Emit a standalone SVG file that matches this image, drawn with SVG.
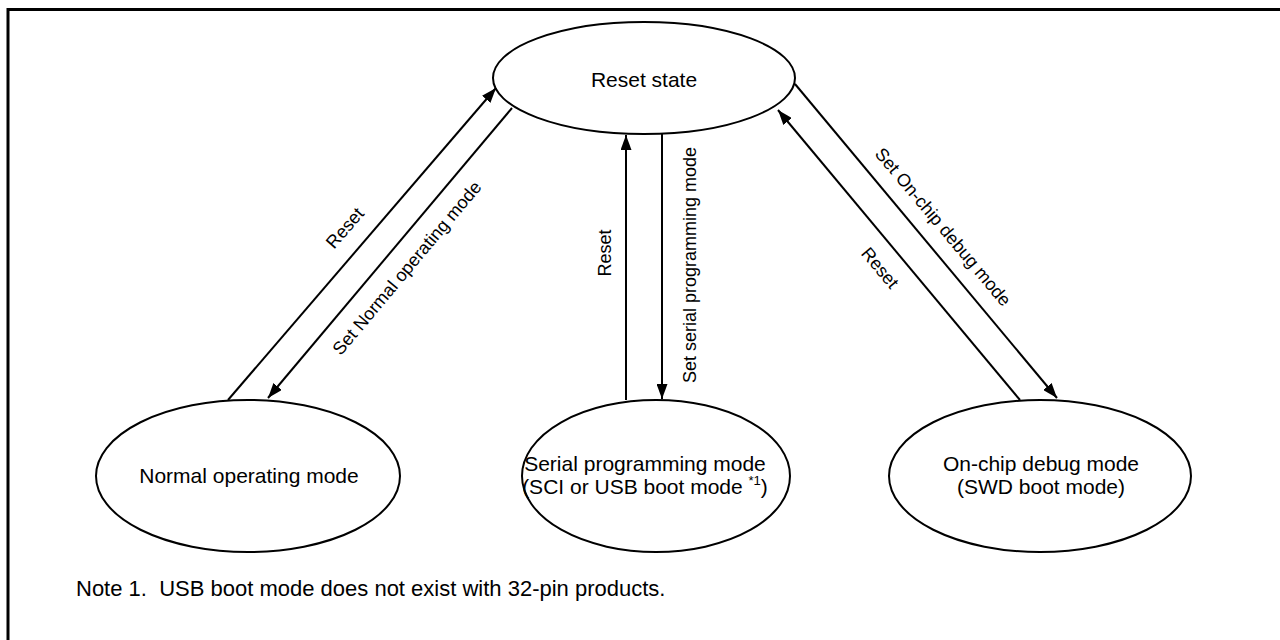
<svg xmlns="http://www.w3.org/2000/svg" width="1280" height="640" viewBox="0 0 1280 640">
<style>
.node{fill:#fff;stroke:#000;stroke-width:2}
.nt{font-family:"Liberation Sans",Arial,sans-serif;font-size:21px;fill:#000;text-anchor:middle}
.lbl{font-family:"Liberation Sans",Arial,sans-serif;font-size:18px;fill:#000;text-anchor:middle}
.edge{stroke:#000;stroke-width:2;fill:none}
.frame{stroke:#000;stroke-width:3;fill:none}
</style>
<defs>
<marker id="ah" viewBox="0 0 15 11" refX="15" refY="5.5" markerWidth="15" markerHeight="11" markerUnits="userSpaceOnUse" orient="auto">
<path d="M0,0 L15,5.5 L0,11 Z" fill="#000"/>
</marker>
</defs>
<rect width="1280" height="640" fill="#fff"/>
<path class="frame" d="M8,640 V9.5 H1280"/>
<g id="reset-state">
<ellipse class="node" cx="644" cy="78" rx="151" ry="56"/>
<text class="nt" x="644" y="87">Reset state</text>
</g>
<g id="normal-mode">
<ellipse class="node" cx="248" cy="476" rx="152" ry="76"/>
<text class="nt" x="249" y="483">Normal operating mode</text>
</g>
<g id="serial-mode">
<ellipse class="node" cx="656" cy="476" rx="134" ry="76"/>
<text class="nt" x="645" y="471">Serial programming mode</text>
<text class="nt" x="645" y="494">(SCI or USB boot mode <tspan font-size="13" dy="-9">*1</tspan><tspan dy="9">)</tspan></text>
</g>
<g id="debug-mode">
<ellipse class="node" cx="1040" cy="476" rx="151" ry="76"/>
<text class="nt" x="1041" y="471">On-chip debug mode</text>
<text class="nt" x="1041" y="494">(SWD boot mode)</text>
</g>
<g id="connectors">
<line class="edge" x1="228" y1="400" x2="496" y2="88" marker-end="url(#ah)"/>
<line class="edge" x1="512" y1="108" x2="268" y2="398" marker-end="url(#ah)"/>
<line class="edge" x1="626" y1="400" x2="626" y2="135" marker-end="url(#ah)"/>
<line class="edge" x1="662" y1="134" x2="662" y2="399" marker-end="url(#ah)"/>
<line class="edge" x1="795" y1="84" x2="1057" y2="398" marker-end="url(#ah)"/>
<line class="edge" x1="1020" y1="400" x2="778" y2="110" marker-end="url(#ah)"/>
<text class="lbl" transform="translate(345,228) rotate(-49)" y="6">Reset</text>
<text class="lbl" transform="translate(407,268) rotate(-50)" y="6">Set Normal operating mode</text>
<text class="lbl" transform="translate(605,253) rotate(-90)" y="6">Reset</text>
<text class="lbl" transform="translate(690,265) rotate(-90)" y="6">Set serial programming mode</text>
<text class="lbl" transform="translate(943,227) rotate(50)" y="6">Set On-chip debug mode</text>
<text class="lbl" transform="translate(880,268) rotate(50)" y="6">Reset</text>
</g>
<text x="76" y="596" xml:space="preserve" font-family="'Liberation Sans',Arial,sans-serif" font-size="22" fill="#000">Note 1.  USB boot mode does not exist with 32-pin products.</text>
</svg>
